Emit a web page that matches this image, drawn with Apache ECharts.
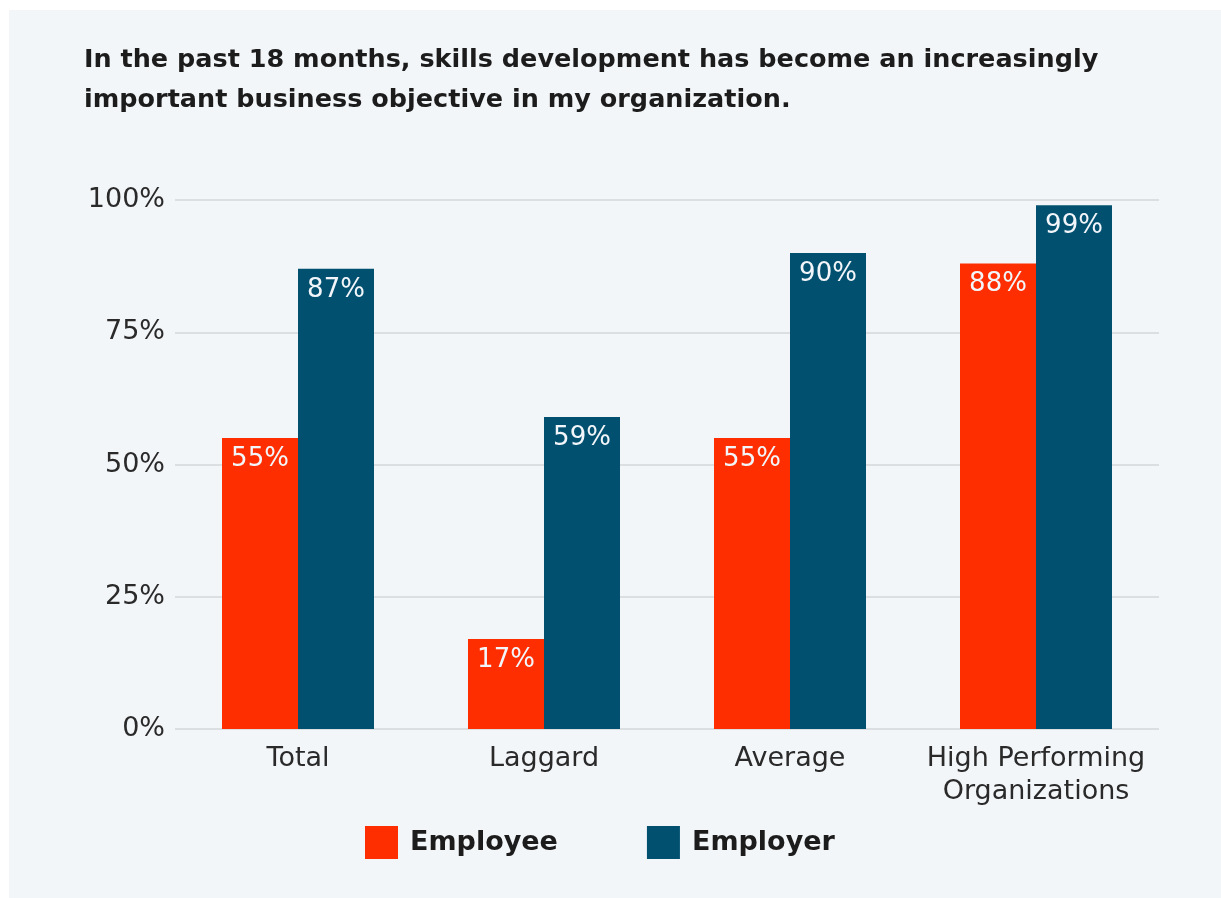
<!DOCTYPE html>
<html><head><meta charset="utf-8">
<script src="https://cdn.jsdelivr.net/npm/echarts@6/dist/echarts.min.js"></script>
<style>html,body{margin:0;padding:0;background:#fff;}#c{width:1221px;height:898px;}</style>
</head><body><div id="c"></div>
<script>
const categories = ['Total', 'Laggard', 'Average', 'High Performing\nOrganizations'];
const employee = [55, 17, 55, 88];
const employer = [87, 59, 90, 99];
const yTicks = [0, 25, 50, 75, 100];
const titleText = 'In the past 18 months, skills development has become an increasingly\nimportant business objective in my organization.';

const chart = echarts.init(document.getElementById('c'), null, {renderer: 'canvas'});
const FONT = 'DejaVu Sans';
const lbl = {
  show: true, position: 'insideTop', distance: 8,
  formatter: '{c}%', color: '#f2f6fa', fontFamily: FONT, fontSize: 26, fontWeight: 'normal'
};
chart.setOption({
  backgroundColor: '#ffffff',
  animation: false,
  graphic: [{type: 'rect', shape: {x: 9, y: 10, width: 1212, height: 888}, style: {fill: '#f3f6f9'}, z: -10}],
  title: {
    text: titleText, left: 84, top: 40, padding: 0,
    textStyle: {fontFamily: FONT, fontSize: 25.5, fontWeight: 'bold', color: '#1c1c1c', lineHeight: 40}
  },
  legend: {
    left: 365, top: 826, padding: 0, itemWidth: 33, itemHeight: 33, itemGap: 89, icon: 'rect',
    textStyle: {fontFamily: FONT, fontSize: 27, fontWeight: 'bold', color: '#1c1c1c', padding: [0, 0, 0, 7]},
    data: ['Employee', 'Employer']
  },
  grid: {left: 175, right: 62, top: 200, bottom: 169, containLabel: false},
  xAxis: {
    type: 'category', data: categories,
    axisLine: {show: false}, axisTick: {show: false},
    axisLabel: {fontFamily: FONT, fontSize: 27, color: '#2a2a2a', margin: 13, lineHeight: 33, interval: 0}
  },
  yAxis: {
    type: 'value', min: yTicks[0], max: yTicks[yTicks.length - 1], interval: 25,
    axisLine: {show: false}, axisTick: {show: false},
    axisLabel: {formatter: '{value}%', fontFamily: FONT, fontSize: 27, color: '#2a2a2a', margin: 10},
    splitLine: {lineStyle: {color: '#dcdfe2', width: 2}}
  },
  series: [
    {name: 'Employee', type: 'bar', data: employee, barWidth: 76, barGap: '0%',
     itemStyle: {color: '#ff2e00'}, label: lbl},
    {name: 'Employer', type: 'bar', data: employer, barWidth: 76, barGap: '0%',
     itemStyle: {color: '#02506f'}, label: lbl}
  ]
});
</script></body></html>
